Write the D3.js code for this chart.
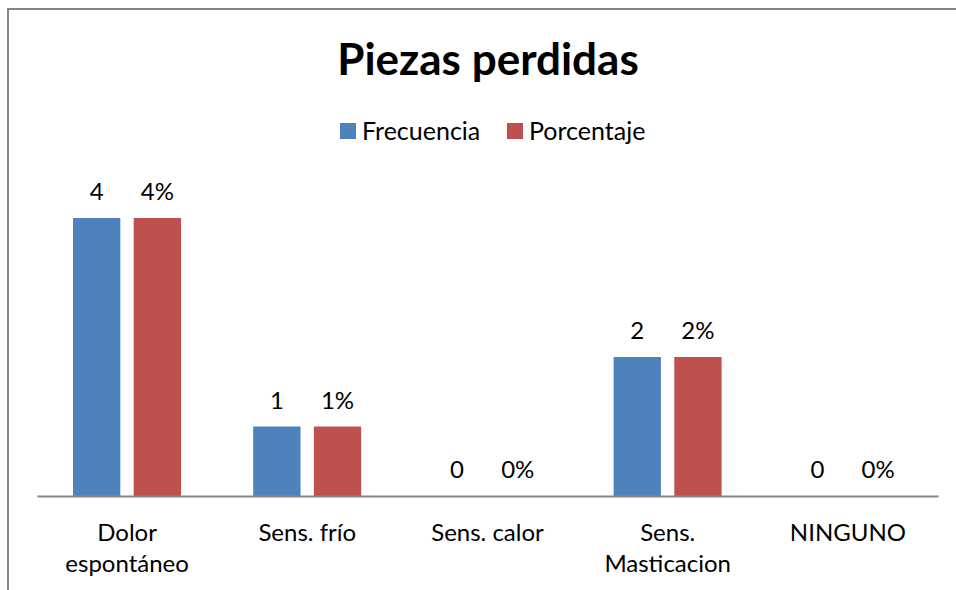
<!DOCTYPE html>
<html>
<head>
<meta charset="utf-8">
<script src="https://cdn.jsdelivr.net/npm/d3@7"></script>
<style>
  body { margin: 0; background: #fff; }
  svg { display: block; font-family: Lato, "Open Sans", sans-serif; }
</style>
</head>
<body>
<svg id="chart" width="956" height="590"></svg>
<script>
// Chart data
const categories = [["Dolor", "espontáneo"], ["Sens. frío"], ["Sens. calor"], ["Sens.", "Masticacion"], ["NINGUNO"]];
const frecuencia = [4, 1, 0, 2, 0];
const porcentaje = [4, 1, 0, 2, 0];
const seriesNames = ["Frecuencia", "Porcentaje"];
const seriesColors = ["#4f81bd", "#c0504d"];
const titleText = "Piezas perdidas";

const svg = d3.select("#chart");

// Outer chart frame (extends past the viewport on right and bottom)
svg.append("rect")
  .attr("x", 8).attr("y", 9)
  .attr("width", 1000).attr("height", 700)
  .attr("fill", "none")
  .attr("stroke", "#868686")
  .attr("stroke-width", 2);

const plot = { left: 37, right: 938, top: 150, bottom: 496 };

const x0 = d3.scaleBand()
  .domain(d3.range(categories.length))
  .range([plot.left, plot.right])
  .paddingInner(0).paddingOuter(0);

const x1 = d3.scaleBand()
  .domain([0, 1])
  .range([36, 144])
  .paddingInner(0.22);

const y = d3.scaleLinear().domain([0, 4]).range([plot.bottom, 218]);
const yPct = d3.scaleLinear().domain([0, 4]).range([plot.bottom, 218]);

const series = [
  { values: frecuencia, scale: y, fmt: d => String(d) },
  { values: porcentaje, scale: yPct, fmt: d => d + "%" }
];

series.forEach((s, si) => {
  const g = svg.append("g");
  g.selectAll("rect")
    .data(s.values)
    .join("rect")
    .attr("x", (d, i) => x0(i) + x1(si))
    .attr("width", x1.bandwidth())
    .attr("y", d => s.scale(d))
    .attr("height", d => plot.bottom - s.scale(d))
    .attr("fill", seriesColors[si]);
  g.selectAll("text")
    .data(s.values)
    .join("text")
    .attr("x", (d, i) => x0(i) + x1(si) + x1.bandwidth() / 2)
    .attr("y", d => s.scale(d) - 18)
    .attr("text-anchor", "middle")
    .attr("font-size", 24)
    .attr("fill", "#000")
    .text(s.fmt);
});

// Category axis
const xAxis = d3.axisBottom(x0).tickSize(0).tickFormat("");
const axisG = svg.append("g")
  .attr("transform", `translate(0,${plot.bottom})`)
  .call(xAxis);
axisG.select(".domain").attr("stroke", "#868686").attr("stroke-width", 2);

categories.forEach((lines, i) => {
  const t = svg.append("text")
    .attr("x", x0(i) + x0.bandwidth() / 2)
    .attr("y", 541)
    .attr("text-anchor", "middle")
    .attr("font-size", 24)
    .attr("fill", "#000");
  lines.forEach((ln, li) => {
    t.append("tspan")
      .attr("x", x0(i) + x0.bandwidth() / 2)
      .attr("dy", li === 0 ? 0 : 31)
      .text(ln);
  });
});

// Title
svg.append("text")
  .attr("x", 488).attr("y", 75)
  .attr("text-anchor", "middle")
  .attr("font-size", 44)
  .attr("font-weight", "bold")
  .attr("fill", "#000")
  .text(titleText);

// Legend
const legendItems = [{ x: 340, tx: 362 }, { x: 507, tx: 529 }];
legendItems.forEach((it, i) => {
  svg.append("rect")
    .attr("x", it.x).attr("y", 123)
    .attr("width", 16).attr("height", 16)
    .attr("fill", seriesColors[i]);
  svg.append("text")
    .attr("x", it.tx).attr("y", 140)
    .attr("font-size", 25)
    .attr("fill", "#000")
    .text(seriesNames[i]);
});
</script>
</body>
</html>
